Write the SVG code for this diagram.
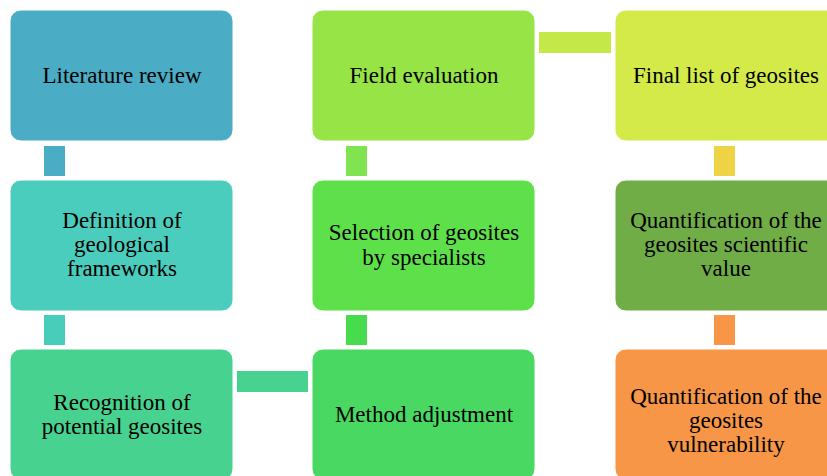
<svg xmlns="http://www.w3.org/2000/svg" width="827" height="476" viewBox="0 0 827 476">
<style>
.t text{font-size:23px;fill:#000;text-anchor:middle}
.box{stroke:#ffffff;stroke-width:1}
</style>
<rect width="827" height="476" fill="#fff"/>
<g id="connectors">
<rect x="44" y="146" width="21" height="30" fill="#4AACC5"/>
<rect x="44" y="315" width="21" height="30" fill="#48CDBA"/>
<rect x="237" y="371" width="71" height="21" fill="#48D28F"/>
<rect x="346" y="315" width="21" height="30" fill="#47DB4E"/>
<rect x="346" y="146" width="21" height="30" fill="#7FE450"/>
<rect x="539" y="32" width="72" height="21" fill="#C4E847"/>
<rect x="714" y="146" width="21" height="30" fill="#EED444"/>
<rect x="714" y="315" width="21" height="30" fill="#F79646"/>
</g>
<g class="t" font-family="'Liberation Serif', 'Times New Roman', serif">
<g id="n1"><rect class="box" x="10" y="10" width="223" height="131" rx="11" fill="#4AACC5"/><text x="122" y="83">Literature review</text></g>
<g id="n2"><rect class="box" x="10" y="180" width="223" height="131" rx="11" fill="#4ACDBC"/><text x="122" y="228">Definition of</text><text x="122" y="252">geological</text><text x="122" y="276">frameworks</text></g>
<g id="n3"><rect class="box" x="10" y="349" width="223" height="131" rx="11" fill="#48D290"/><text x="122" y="410">Recognition of</text><text x="122" y="434">potential geosites</text></g>
<g id="n4"><rect class="box" x="312" y="349" width="223" height="131" rx="11" fill="#49D862"/><text x="424" y="422">Method adjustment</text></g>
<g id="n5"><rect class="box" x="312" y="180" width="223" height="131" rx="11" fill="#5EE04B"/><text x="424" y="240">Selection of geosites</text><text x="424" y="265">by specialists</text></g>
<g id="n6"><rect class="box" x="312" y="10" width="223" height="131" rx="11" fill="#96E445"/><text x="424" y="83">Field evaluation</text></g>
<g id="n7"><rect class="box" x="615" y="10" width="223" height="131" rx="11" fill="#D4EA48"/><text x="726" y="83">Final list of geosites</text></g>
<g id="n8"><rect class="box" x="615" y="180" width="223" height="131" rx="11" fill="#70AD47"/><text x="726" y="228">Quantification of the</text><text x="726" y="252">geosites scientific</text><text x="726" y="276">value</text></g>
<g id="n9"><rect class="box" x="615" y="349" width="223" height="131" rx="11" fill="#F79646"/><text x="726" y="404">Quantification of the</text><text x="726" y="428">geosites</text><text x="726" y="452">vulnerability</text></g>
</g>
</svg>
